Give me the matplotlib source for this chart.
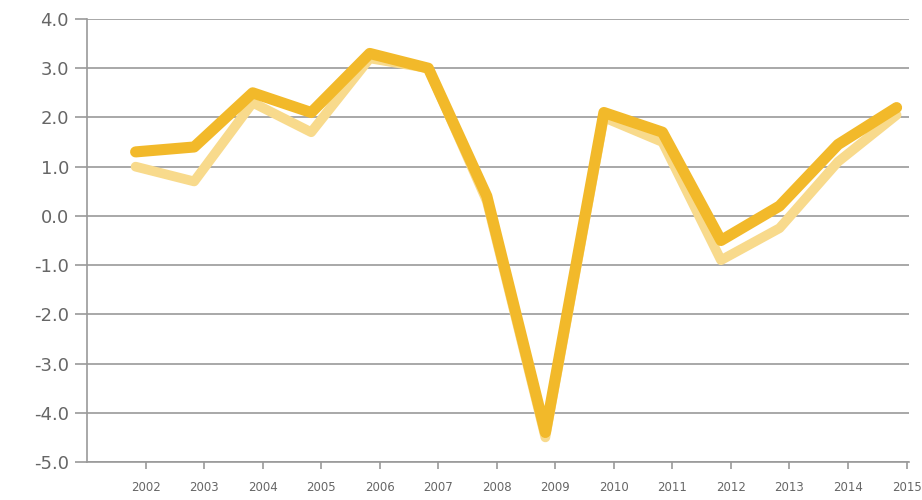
import numpy as np
import matplotlib.pyplot as plt

years = np.arange(2002, 2016)
year_labels = [str(y) for y in years]
dark_series = [1.3, 1.4, 2.5, 2.1, 3.3, 3.0, 0.4, -4.4, 2.1, 1.7, -0.5, 0.2, 1.45, 2.2]
light_series = [1.0, 0.7, 2.3, 1.7, 3.2, 3.0, 0.3, -4.5, 2.0, 1.5, -0.9, -0.25, 1.1, 2.05]
y_ticks = np.arange(-5, 5, 1)

dark_col = '#F2B92A'
light_col = '#F8DA8C'
grid_col = '#9a9a9a'
text_col = '#666666'

fig = plt.figure(figsize=(9.22, 5.0), dpi=100)
ax = fig.add_axes([0.0944, 0.076, 0.892, 0.886])

# points sit a little left of the year ticks in the original
xs = years - 0.17
ax.plot(xs, light_series, color=light_col, lw=7, solid_joinstyle='round',
        solid_capstyle='round', zorder=3)
ax.plot(xs, dark_series, color=dark_col, lw=8, solid_joinstyle='round',
        solid_capstyle='round', zorder=4)

ax.set_ylim(-5, 4)
ax.set_xlim(2001, 2015.05)
ax.set_yticks(y_ticks)
ax.set_yticklabels([f'{v:.1f}' for v in y_ticks], color=text_col, fontsize=13)
ax.set_xticks(years)
ax.set_xticklabels(year_labels, color=text_col, fontsize=8.5)

ax.grid(axis='y', color=grid_col, lw=1.2, zorder=1)
ax.set_axisbelow(True)
for s in ['top', 'right']:
    ax.spines[s].set_visible(False)
for s in ['left', 'bottom']:
    ax.spines[s].set_color(grid_col)
    ax.spines[s].set_linewidth(1.2)
ax.tick_params(axis='y', length=9, width=1.2, color=grid_col, pad=4)
ax.tick_params(axis='x', length=5, width=1.2, color=grid_col, pad=9)

fig.savefig('out.png', dpi=100)
